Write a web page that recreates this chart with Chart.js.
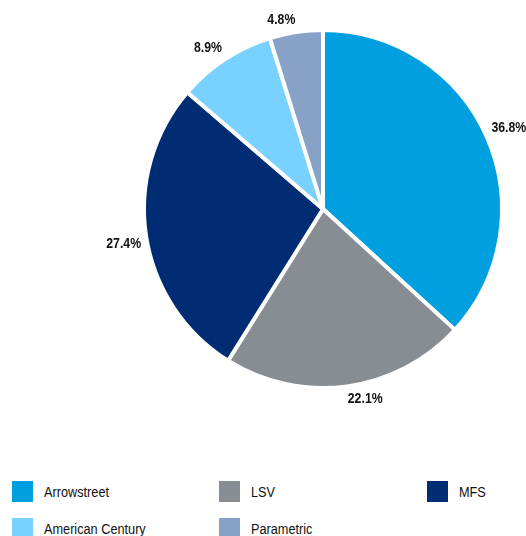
<!DOCTYPE html>
<html>
<head>
<meta charset="utf-8">
<script src="https://cdn.jsdelivr.net/npm/chart.js@4"></script>
<style>
  html, body { margin: 0; padding: 0; background: #fff; }
  body { width: 526px; height: 536px; position: relative; overflow: hidden;
         font-family: "Liberation Sans", Arial, sans-serif; }
  #wrap { position: absolute; left: 0; top: 0; width: 526px; height: 430px; }
  #legend { position: absolute; left: 12px; top: 481px; width: 514px;
            display: grid; grid-template-columns: 207px 208px 99px; row-gap: 16px; }
  .item { display: flex; align-items: center; height: 21px; font-size: 15.5px; color: #111; white-space: nowrap; }
  .box { width: 21px; height: 21px; margin-right: 11px; flex: none; }
  .txt { display: inline-block; transform: scaleX(0.82); transform-origin: left center; }
</style>
</head>
<body>
<div id="wrap"><canvas id="pie"></canvas></div>
<div id="legend"></div>
<script>
"use strict";

const managers = ['Arrowstreet', 'LSV', 'MFS', 'American Century', 'Parametric'];
const shares = [36.8, 22.1, 27.4, 8.9, 4.8];
const colours = ['#00A0E0', '#888D94', '#002C73', '#79D1FF', '#88A1C6'];

// legend built from the same arrays
const legend = document.getElementById('legend');
legend.innerHTML = managers.map((m, i) =>
  `<div class="item"><span class="box" style="background:${colours[i]}"></span><span class="txt">${m}</span></div>`
).join('\n');

// percent labels just outside each slice (narrowed like the original font)
const outsideLabels = {
  id: 'outsideLabels',
  afterDatasetsDraw(chart) {
    const ctx = chart.ctx;
    const arcs = chart.getDatasetMeta(0).data;
    const squeeze = 0.82;
    arcs.forEach((arc, i) => {
      const mid = (arc.startAngle + arc.endAngle) / 2;
      const r = arc.outerRadius + 5;
      const x = arc.x + Math.cos(mid) * r;
      const y = arc.y + Math.sin(mid) * r;
      ctx.save();
      ctx.font = 'bold 15px "Liberation Sans", Arial, sans-serif';
      ctx.fillStyle = '#111';
      ctx.textAlign = Math.cos(mid) >= 0 ? 'left' : 'right';
      ctx.textBaseline = Math.sin(mid) >= 0 ? 'top' : 'bottom';
      ctx.translate(x, y);
      ctx.scale(squeeze, 1);
      ctx.fillText(shares[i].toFixed(1) + '%', 0, 0);
      ctx.restore();
    });
  }
};

new Chart(document.getElementById('pie'), {
  type: 'pie',
  data: {
    labels: managers,
    datasets: [{
      data: shares,
      backgroundColor: colours,
      borderColor: '#ffffff',
      borderWidth: 4,
      hoverBorderWidth: 4,
      hoverOffset: 0
    }]
  },
  options: {
    responsive: true,
    maintainAspectRatio: false,
    animation: false,
    events: [],
    layout: { padding: { left: 142, right: 22, top: 28, bottom: 40 } },
    plugins: {
      legend: { display: false },
      tooltip: { enabled: false }
    }
  },
  plugins: [outsideLabels]
});
</script>
</body>
</html>
